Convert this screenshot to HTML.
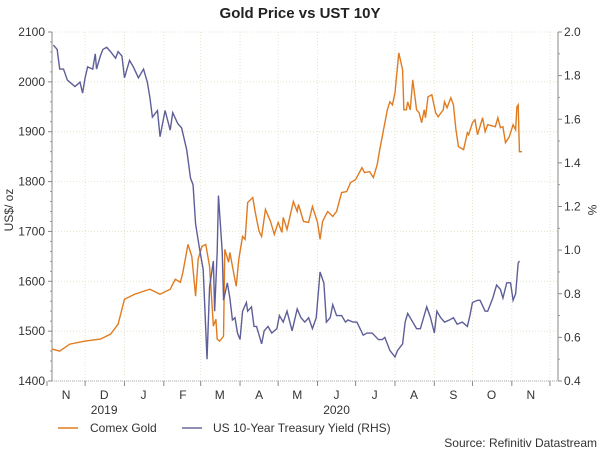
<!DOCTYPE html>
<html><head><meta charset="utf-8"><style>
body{margin:0;background:#fff;}
svg{font-family:"Liberation Sans",sans-serif;}
</style></head><body>
<svg id="chart" width="600" height="450" viewBox="0 0 600 450">
<text x="300" y="18" text-anchor="middle" font-size="15" font-weight="bold" fill="#222">Gold Price vs UST 10Y</text>
<text transform="translate(13,210) rotate(-90)" text-anchor="middle" font-size="12" fill="#333">US$/ oz</text>
<text transform="translate(588,210) rotate(90)" text-anchor="middle" font-size="12" fill="#333">%</text>
<g id="grid"></g><g id="axes"></g><g id="series"></g>
<g>
<line x1="58" y1="428" x2="78" y2="428" stroke="#e07b20" stroke-width="1.5"/>
<text x="90" y="432" font-size="12" fill="#333">Comex Gold</text>
<line x1="182" y1="428" x2="202" y2="428" stroke="#6a6a9a" stroke-width="1.5"/>
<text x="213" y="432" font-size="12" fill="#333">US 10-Year Treasury Yield (RHS)</text>
</g>
<text x="597" y="447" text-anchor="end" font-size="12" fill="#333">Source: Refinitiv Datastream</text>
</svg>
<script>
// days since 2019-11-01
const goldDays=[4,10,18,30,42,50,56,61,69,81,89,97,101,105,107,111,114,117,119,122,125,128,131,133,134,136,139,140,143,144,146,149,151,154,156,158,162,164,167,169,172,176,179,182,185,186,189,194,197,198,202,206,209,213,215,217,221,225,228,232,236,239,243,248,250,254,257,260,262,265,268,270,272,274,277,280,281,283,284,286,288,291,293,295,297,298,300,303,306,308,312,313,315,318,320,322,324,328,331,332,335,337,339,343,345,347,353,355,357,359,361,364,367,369,370,371,372,374];
const goldValues=[1464,1460,1474,1480,1484,1494,1514,1564,1574,1584,1574,1584,1604,1598,1618,1674,1650,1570,1644,1670,1674,1630,1510,1524,1484,1480,1490,1664,1638,1658,1630,1590,1644,1690,1684,1758,1768,1738,1700,1690,1744,1720,1694,1718,1698,1728,1704,1760,1740,1754,1720,1718,1750,1718,1684,1720,1740,1730,1740,1778,1780,1798,1804,1828,1818,1820,1808,1834,1864,1904,1944,1960,1954,1978,2058,2024,1944,1944,1960,1944,2004,1944,1938,1918,1944,1928,1970,1974,1938,1930,1944,1960,1948,1968,1954,1904,1870,1864,1898,1894,1918,1924,1894,1928,1900,1914,1910,1928,1908,1910,1878,1890,1914,1904,1950,1954,1860,1860];
const yieldDays=[5,8,10,13,16,18,22,26,28,30,32,36,38,39,42,44,47,50,54,56,59,61,65,68,72,76,79,81,83,87,89,93,97,99,103,106,110,113,115,117,120,123,126,128,131,132,134,135,138,139,142,144,146,148,150,152,154,157,158,161,163,165,169,171,174,177,181,183,186,189,193,197,200,203,206,209,212,215,218,220,223,225,228,232,235,237,241,244,249,252,256,261,264,266,270,274,276,280,282,284,287,291,294,296,299,302,305,307,310,313,317,320,323,327,329,331,333,335,339,341,345,347,351,354,357,359,362,365,367,369,371,372];
const yieldValues=[1.94,1.92,1.83,1.83,1.78,1.77,1.75,1.77,1.72,1.79,1.84,1.83,1.90,1.83,1.89,1.92,1.93,1.91,1.88,1.91,1.89,1.79,1.87,1.84,1.79,1.83,1.77,1.70,1.61,1.64,1.52,1.64,1.55,1.63,1.58,1.56,1.46,1.33,1.30,1.12,1.01,0.91,0.50,0.83,0.95,0.72,0.99,1.25,0.99,0.77,0.85,0.78,0.68,0.69,0.62,0.59,0.72,0.76,0.72,0.74,0.65,0.65,0.57,0.63,0.65,0.62,0.64,0.70,0.67,0.72,0.63,0.73,0.69,0.67,0.69,0.64,0.69,0.90,0.85,0.67,0.69,0.75,0.70,0.70,0.67,0.68,0.67,0.67,0.61,0.62,0.62,0.59,0.59,0.60,0.54,0.51,0.54,0.57,0.67,0.71,0.68,0.64,0.64,0.68,0.74,0.69,0.62,0.72,0.69,0.67,0.68,0.69,0.66,0.67,0.66,0.65,0.70,0.76,0.77,0.77,0.72,0.72,0.78,0.84,0.82,0.78,0.85,0.85,0.77,0.80,0.94,0.95];
const leftTicks=[1400,1500,1600,1700,1800,1900,2000,2100];
const rightTicks=[0.4,0.6,0.8,1.0,1.2,1.4,1.6,1.8,2.0];
const monthStarts=[0,30,61,92,121,152,182,213,243,274,305,335,366,396];
const monthLabels=["N","D","J","F","M","A","M","J","J","A","S","O","N"];
const yearLabels=["2019","2020"];
const yearDays=[45,228];

const NS="http://www.w3.org/2000/svg";
const X0=52,X1=558,Y0=32,Y1=381;
const xs=d=>47+1.27*d;
const yl=v=>Y1-(v-1400)/700*(Y1-Y0);
const yr=v=>Y1-(v-0.4)/1.6*(Y1-Y0);
function mk(tag,attrs,parent){const e=document.createElementNS(NS,tag);for(const k in attrs)e.setAttribute(k,attrs[k]);parent.appendChild(e);return e;}
const grid=document.getElementById('grid'),axes=document.getElementById('axes'),series=document.getElementById('series');
leftTicks.forEach(v=>{
  const y=yl(v);
  const g=mk('line',{x1:X0,x2:X1,y1:y,y2:y,stroke:'#e2e4cc','stroke-dasharray':'1,2'},grid);
  
  
  mk('line',{x1:X0-4,x2:X0,y1:y,y2:y,stroke:'#888'},axes);
  const t=mk('text',{x:X0-7,y:y+4,'text-anchor':'end','font-size':12,fill:'#333'},axes);
  t.textContent=v;
  
  
  if(v<2100){for(let k=1;k<5;k++){const yy=yl(v+k*20);mk('line',{x1:X0-2,x2:X0,y1:yy,y2:yy,stroke:'#999'},axes);}}
});
rightTicks.forEach(v=>{
  const y=yr(v);
  mk('line',{x1:X1,x2:X1+4,y1:y,y2:y,stroke:'#888'},axes);
  const t=mk('text',{x:X1+6,y:y+4,'font-size':12,fill:'#333'},axes);
  t.textContent=v.toFixed(1);
  
  
  if(v<2){const yy=yr(v+0.1);mk('line',{x1:X1,x2:X1+2,y1:yy,y2:yy,stroke:'#999'},axes);}
});
monthStarts.forEach((d,i)=>{
  const x=xs(d);
  if(x>X0&&x<X1){const g=mk('line',{x1:x,x2:x,y1:Y0,y2:Y1,stroke:'#e2e4cc','stroke-dasharray':'1,2'},grid);
  
  }
  if(x>=X0-6&&x<=X1) mk('line',{x1:x,x2:x,y1:Y1,y2:Y1+5,stroke:'#888'},axes);
  if(i<monthLabels.length){
    const t=mk('text',{x:xs(d+15),y:Y1+18,'text-anchor':'middle','font-size':12,fill:'#333'},axes);
    t.textContent=monthLabels[i];
    
    
  }
});
yearLabels.forEach((s,i)=>{
  const t=mk('text',{x:xs(yearDays[i]),y:Y1+33,'text-anchor':'middle','font-size':12,fill:'#333'},axes);
  t.textContent=s;
  
  
});
mk('line',{x1:X0,x2:X0,y1:Y0,y2:Y1,stroke:'#888'},axes);
mk('line',{x1:X1,x2:X1,y1:Y0,y2:Y1,stroke:'#888'},axes);
mk('line',{x1:X0,x2:X1,y1:Y1,y2:Y1,stroke:'#aaa','stroke-dasharray':'1,1'},axes);
const gp=mk('polyline',{points:goldDays.map((d,i)=>xs(d)+','+yl(goldValues[i])).join(' '),fill:'none',stroke:'#e07b20','stroke-width':1.4},series);


const yp=mk('polyline',{points:yieldDays.map((d,i)=>xs(d)+','+yr(yieldValues[i])).join(' '),fill:'none',stroke:'#5e5e98','stroke-width':1.4},series);


</script>
</body></html>
